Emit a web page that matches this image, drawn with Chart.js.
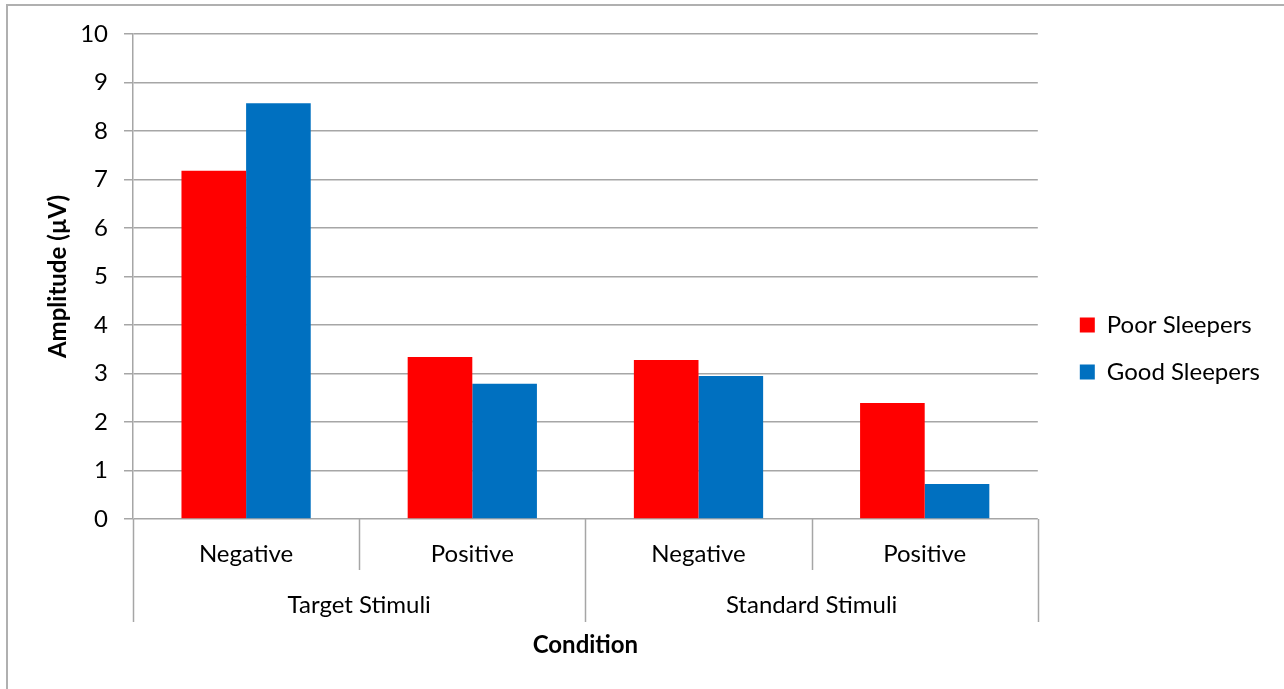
<!DOCTYPE html>
<html>
<head>
<meta charset="utf-8">
<script src="https://cdn.jsdelivr.net/npm/chart.js@4/dist/chart.umd.min.js"></script>
<style>
html,body{margin:0;padding:0;background:#fff;}
#wrap{width:1284px;height:689px;position:relative;}
</style>
</head>
<body>
<div id="wrap"><canvas id="c" width="1284" height="689"></canvas></div>
<script>
const categories = ['Negative', 'Positive', 'Negative', 'Positive'];
const groups = ['Target Stimuli', 'Standard Stimuli'];
const groupSize = 2;
const poorSleepers = [7.18, 3.34, 3.28, 2.39];
const goodSleepers = [8.57, 2.79, 2.95, 0.72];
const yTicks = [0, 1, 2, 3, 4, 5, 6, 7, 8, 9, 10];

const FONT = 'Lato, "Open Sans", sans-serif';
const FS = 24;
const GRID = '#a6a6a6';
const PLOT_LEFT = 133, PLOT_BOTTOM = 519, PAD_BOTTOM = 26;
const LEGEND_SHIFT = 19;

const frame = {
  id: 'frame',
  beforeDraw(chart) {
    const ctx = chart.ctx;
    ctx.save();
    ctx.fillStyle = '#fff';
    ctx.fillRect(0, 0, chart.width, chart.height);
    ctx.strokeStyle = '#b0b0b0';
    ctx.lineWidth = 2;
    ctx.strokeRect(7, 5, chart.width + 20, chart.height + 20);
    ctx.restore();
  }
};

const legendShift = {
  id: 'legendShift',
  afterLayout(chart) {
    if (chart.legend) {
      chart.legend.left += LEGEND_SHIFT;
      chart.legend.right += LEGEND_SHIFT;
    }
  }
};

const groupAxis = {
  id: 'groupAxis',
  afterDraw(chart) {
    const x = chart.scales.x;
    const ctx = chart.ctx;
    const top = x.top;
    const n = categories.length;
    const centers = categories.map((_, i) => x.getPixelForTick(i));
    const bounds = [x.left];
    for (let i = 0; i < n - 1; i++) bounds.push((centers[i] + centers[i + 1]) / 2);
    bounds.push(x.right);
    ctx.save();
    ctx.strokeStyle = GRID;
    ctx.lineWidth = 1.5;
    bounds.forEach((b, i) => {
      const isGroup = i % groupSize === 0;
      ctx.beginPath();
      ctx.moveTo(Math.round(b) + 0.5, top);
      ctx.lineTo(Math.round(b) + 0.5, top + (isGroup ? 103 : 51));
      ctx.stroke();
    });
    ctx.fillStyle = '#000';
    ctx.font = FS + 'px ' + FONT;
    ctx.textAlign = 'center';
    ctx.textBaseline = 'middle';
    groups.forEach((g, gi) => {
      const a = centers[gi * groupSize];
      const b = centers[gi * groupSize + groupSize - 1];
      ctx.fillText(g, (a + b) / 2, top + 86);
    });
    ctx.restore();
  }
};

new Chart(document.getElementById('c'), {
  type: 'bar',
  data: {
    labels: categories,
    datasets: [
      { label: 'Poor Sleepers', data: poorSleepers, backgroundColor: '#ff0000', borderWidth: 0 },
      { label: 'Good Sleepers', data: goodSleepers, backgroundColor: '#0070c0', borderWidth: 0 }
    ]
  },
  plugins: [frame, legendShift, groupAxis],
  options: {
    responsive: false,
    animation: false,
    devicePixelRatio: 1,
    layout: { padding: { left: 7, right: 33, top: 34, bottom: PAD_BOTTOM } },
    datasets: { bar: { categoryPercentage: 2 / 3.5, barPercentage: 1 } },
    plugins: {
      tooltip: { enabled: false },
      legend: {
        position: 'right',
        align: 'center',
        labels: {
          boxWidth: 15, boxHeight: 15, padding: 23,
          color: '#000',
          font: { family: FONT, size: FS }
        }
      }
    },
    scales: {
      x: {
        grid: { display: false, drawTicks: false },
        border: { display: false },
        ticks: { color: '#000', font: { family: FONT, size: FS }, padding: 21, maxRotation: 0 },
        title: {
          display: true, text: 'Condition', color: '#000',
          font: { family: FONT, size: FS, weight: 'bold' },
          padding: { top: 0, bottom: 3 }
        },
        afterFit(s) { s.height = 689 - PAD_BOTTOM - PLOT_BOTTOM; }
      },
      y: {
        min: 0, max: 10,
        afterBuildTicks(s) { s.ticks = yTicks.map(v => ({ value: v })); },
        grid: { color: GRID, lineWidth: 1.5, tickLength: 9 },
        border: { color: GRID, width: 1.5 },
        ticks: { color: '#000', font: { family: FONT, size: FS }, padding: 16 },
        title: {
          display: true, text: 'Amplitude (µV)', color: '#000',
          font: { family: FONT, size: FS, weight: 'bold' },
          padding: { top: 37, bottom: 0 }
        },
        afterFit(s) { s.width = PLOT_LEFT - 7; }
      }
    }
  }
});
</script>
</body>
</html>
